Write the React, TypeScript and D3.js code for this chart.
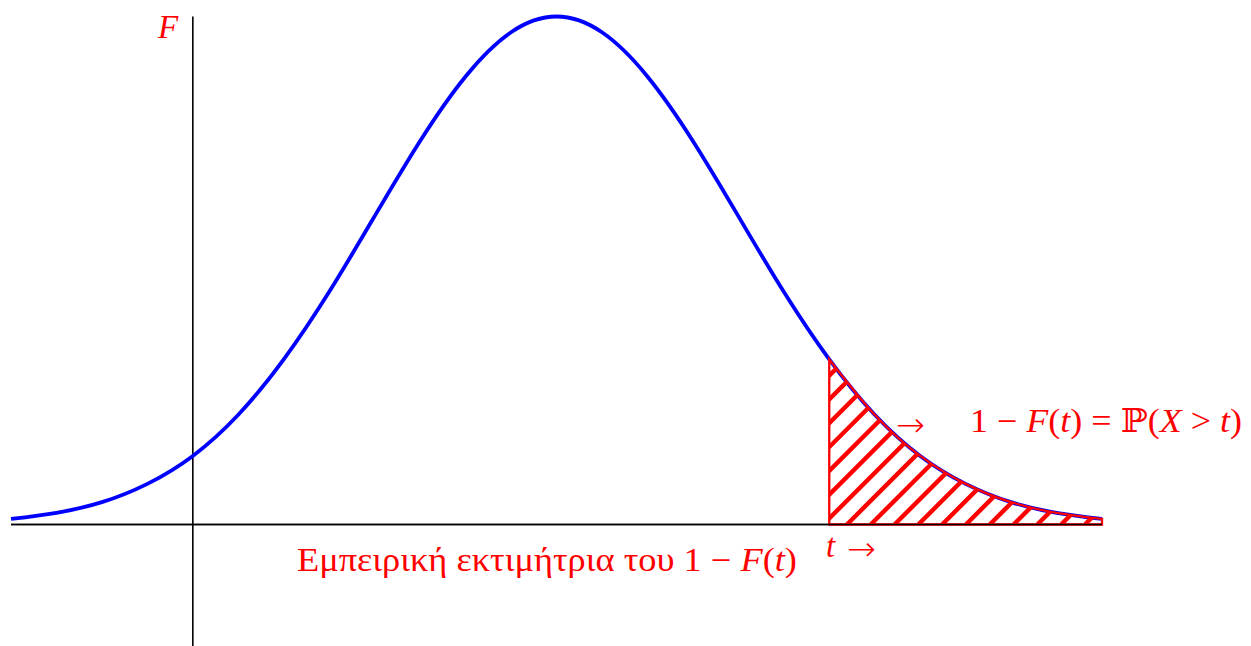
import React from "react";
import * as d3 from "d3";

// Curve samples (x in axis units, y relative to peak height)
const curveX = [-1, -0.75, -0.5, -0.25, 0, 0.25, 0.5, 0.75, 1, 1.25, 1.5, 1.75, 2, 2.25, 2.5, 2.75, 3, 3.25, 3.5, 3.75, 4, 4.25, 4.5, 4.75, 5];
const curveY = [0.011, 0.023, 0.044, 0.08, 0.135, 0.216, 0.325, 0.458, 0.607, 0.755, 0.882, 0.969, 1.0, 0.969, 0.882, 0.755, 0.607, 0.458, 0.325, 0.216, 0.135, 0.08, 0.044, 0.023, 0.011];
const tValue = 3.5;
const xDomain = [-1, 5];
const yAxisRange = [-0.26, 1];

const labelF = "F";
const labelTail = ["1 − ", "F", "(", "t", ") = ℙ(", "X", " > ", "t", ")"];
const labelBottomGreek = "Εμπειρική εκτιμήτρια του 1 − ";
const arrow = "→";

const W = 1251;
const H = 646;
const RED = "#ff0000";
const BLUE = "#0000ff";
const FONT = "'Liberation Serif', 'DejaVu Serif', serif";
const ARROW_FONT = "'DejaVu Sans', sans-serif";

export default function App() {
  const x = d3.scaleLinear().domain(xDomain).range([11, 1102]);
  const y = d3.scaleLinear().domain([0, 1]).range([524.5, 16.5]);
  const pts: [number, number][] = curveX.map((v, i) => [v, curveY[i]]);
  const tail = pts.filter((p) => p[0] >= tValue);

  const line = d3
    .line<[number, number]>()
    .x((d) => x(d[0]))
    .y((d) => y(d[1]))
    .curve(d3.curveNatural);
  const area = d3
    .area<[number, number]>()
    .x((d) => x(d[0]))
    .y0(y(0))
    .y1((d) => y(d[1]))
    .curve(d3.curveNatural);

  const areaPath = area(tail) || "";
  const x0 = x(tValue);
  const base = y(0);
  const spacing = 23.8;
  const hatches: number[] = [];
  for (let k = -20; k < 20; k++) hatches.push(x0 + 17.7 + spacing * k);

  const italic = (s: string) => ["F", "t", "X"].includes(s);

  return (
    <svg
      width={W}
      height={H}
      style={{ position: "absolute", left: 0, top: 0, background: "#fff" }}
      fontFamily={FONT}
    >
      <defs>
        <clipPath id="tailClip">
          <path d={areaPath} />
        </clipPath>
      </defs>
      {/* axes */}
      <line x1={x(xDomain[0])} x2={x(xDomain[1])} y1={base} y2={base} stroke="#000" strokeWidth={1.6} />
      <line x1={x(0)} x2={x(0)} y1={y(yAxisRange[1])} y2={y(yAxisRange[0])} stroke="#000" strokeWidth={1.6} />
      {/* curve */}
      <path d={line(pts) || ""} fill="none" stroke={BLUE} strokeWidth={3.8} />
      {/* hatched tail */}
      <g clipPath="url(#tailClip)">
        {hatches.map((c, i) => (
          <line key={i} x1={c} y1={base} x2={c + 400} y2={base - 400} stroke={RED} strokeWidth={4.4} />
        ))}
      </g>
      <path d={areaPath} fill="none" stroke={RED} strokeWidth={2.3} />
      <line x1={x(xDomain[0])} x2={x(xDomain[1])} y1={base} y2={base} stroke="#000" strokeWidth={1.6} />

      {/* labels */}
      <text x={158} y={38} fontSize={33} fill={RED} fontStyle="italic">
        {labelF}
      </text>
      <text x={896} y={436} fontSize={33} fill={RED} fontFamily={ARROW_FONT} fontWeight={300} textLength={29} lengthAdjust="spacingAndGlyphs">
        {arrow}
      </text>
      <text x={970} y={432} fontSize={33} fill={RED} textLength={272} lengthAdjust="spacingAndGlyphs">
        {labelTail.map((s, i) => (
          <tspan key={i} fontStyle={italic(s) ? "italic" : "normal"}>
            {s}
          </tspan>
        ))}
      </text>
      <text x={297} y={571} fontSize={33} fill={RED} textLength={500} lengthAdjust="spacingAndGlyphs">
        {labelBottomGreek}
        <tspan fontStyle="italic">F</tspan>
        <tspan>(</tspan>
        <tspan fontStyle="italic">t</tspan>
        <tspan>)</tspan>
      </text>
      <text x={826} y={557} fontSize={33} fill={RED} fontStyle="italic">
        t
      </text>
      <text x={847} y={560} fontSize={33} fill={RED} fontFamily={ARROW_FONT} fontWeight={300} textLength={29} lengthAdjust="spacingAndGlyphs">
        {arrow}
      </text>
    </svg>
  );
}
